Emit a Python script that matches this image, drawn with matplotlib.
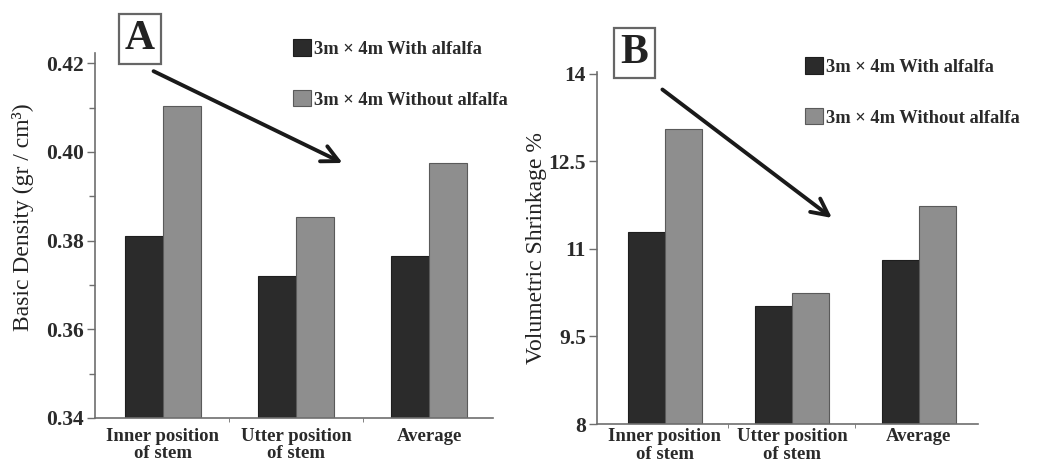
import matplotlib
matplotlib.use("Agg")
import matplotlib.pyplot as plt
import numpy as np
from matplotlib.ticker import FixedLocator

plt.rcParams['font.family'] = ['Liberation Serif', 'DejaVu Serif']

# ---- data ----
categories = ['Inner position\nof stem', 'Utter position\nof stem', 'Average']
series_names = ['3m × 4m With alfalfa', '3m × 4m Without alfalfa']

density_with = [0.381, 0.372, 0.3765]
density_without = [0.4103, 0.3853, 0.3976]

shrink_with = [11.29, 10.02, 10.81]
shrink_without = [13.06, 10.24, 11.74]

W, H = 1038, 465
fig = plt.figure(figsize=(W / 100, H / 100), dpi=100)

DARK = '#2b2b2b'
LIGHT = '#8e8e8e'
AXIS = '#6e6e6e'


def fx(px):
    return px / W


def fy(py):
    return 1 - py / H


def draw_panel(ax, v_with, v_without, ylim, yticks, ylabel, minor=None,
               bw=0.285, xpad=8):
    x = np.arange(len(categories))
    ax.bar(x - bw / 2, v_with, bw, color=DARK, edgecolor='#1e1e1e', lw=0.8,
           label=series_names[0])
    ax.bar(x + bw / 2, v_without, bw, color=LIGHT, edgecolor='#5a5a5a', lw=0.8,
           label=series_names[1])
    ax.set_ylim(*ylim)
    ax.set_yticks(yticks)
    if minor is not None:
        ax.yaxis.set_minor_locator(FixedLocator(minor))
    ax.set_xticks(x)
    ax.set_xticklabels(categories, fontsize=13.5, fontweight='bold',
                       color='#2a2a2a', linespacing=1.05)
    ax.xaxis.set_minor_locator(FixedLocator([0.5, 1.5]))
    ax.tick_params(axis='x', which='major', length=0, pad=xpad)
    ax.tick_params(axis='x', which='minor', length=3, color=AXIS)
    ax.tick_params(axis='y', which='major', length=6, width=1, color=AXIS,
                   labelsize=15.5, pad=2)
    ax.tick_params(axis='y', which='minor', length=4, width=1, color=AXIS)
    for lab in ax.get_yticklabels():
        lab.set_fontweight('bold')
        lab.set_color('#2a2a2a')
    ax.spines['top'].set_visible(False)
    ax.spines['right'].set_visible(False)
    for s in ('left', 'bottom'):
        ax.spines[s].set_color(AXIS)
        ax.spines[s].set_linewidth(1.2)
    ax.set_ylabel(ylabel, fontsize=17, color='#222222')


# ---- panel A ----
axA = fig.add_axes([fx(95), fy(418), fx(493 - 95), fy(53) - fy(418)])
draw_panel(axA, density_with, density_without, (0.34, 0.4223),
           [0.34, 0.36, 0.38, 0.40, 0.42], 'Basic Density (gr / cm³)',
           minor=[0.35, 0.37, 0.39, 0.41], xpad=7)
axA.set_xlim(-0.51, 2.48)
axA.yaxis.set_major_formatter(plt.FuncFormatter(lambda v, p: f'{v:.2f}'))
axA.yaxis.set_label_coords(-0.153, 0.55)
axA.annotate('', xy=(1.35, 0.3975), xytext=(-0.07, 0.4182),
             arrowprops=dict(arrowstyle='->', lw=2.8, color='#1a1a1a',
                             mutation_scale=30, shrinkA=0, shrinkB=0),
             annotation_clip=False)

# ---- panel B ----
axB = fig.add_axes([fx(597), fy(424), fx(978 - 597), fy(72) - fy(424)])
draw_panel(axB, shrink_with, shrink_without, (8, 14.03),
           [8, 9.5, 11, 12.5, 14], 'Volumetric Shrinkage %', bw=0.29, xpad=3)
axB.set_xlim(-0.535, 2.465)
axB.yaxis.set_major_formatter(plt.FuncFormatter(lambda v, p: f'{v:g}'))
axB.yaxis.set_label_coords(-0.131, 0.5)
axB.annotate('', xy=(1.315, 11.53), xytext=(-0.02, 13.73),
             arrowprops=dict(arrowstyle='->', lw=2.8, color='#1a1a1a',
                             mutation_scale=30, shrinkA=0, shrinkB=0),
             annotation_clip=False)

# ---- panel letters ----
box = dict(boxstyle='square,pad=0.15', facecolor='white', edgecolor='#666666', lw=1.6)
fig.text(fx(140), fy(39), 'A', fontsize=30, fontweight='bold', ha='center',
         va='center', bbox=box, color='#222222')
fig.text(fx(634.5), fy(53), 'B', fontsize=30, fontweight='bold', ha='center',
         va='center', bbox=box, color='#222222')

# ---- legends ----
for ax, (lx, ly) in ((axA, (293, 39)), (axB, (805, 57))):
    h, l = ax.get_legend_handles_labels()
    fig.legend(h, l, loc='upper left', bbox_to_anchor=(fx(lx), fy(ly)),
               bbox_transform=fig.transFigure, frameon=False, borderpad=0,
               borderaxespad=0, handlelength=0.95, handleheight=1.0,
               handletextpad=0.2, labelspacing=1.75,
               prop={'size': 13.3, 'weight': 'bold'}, labelcolor='#2a2a2a')

fig.savefig('out.png', dpi=100, facecolor='white')
